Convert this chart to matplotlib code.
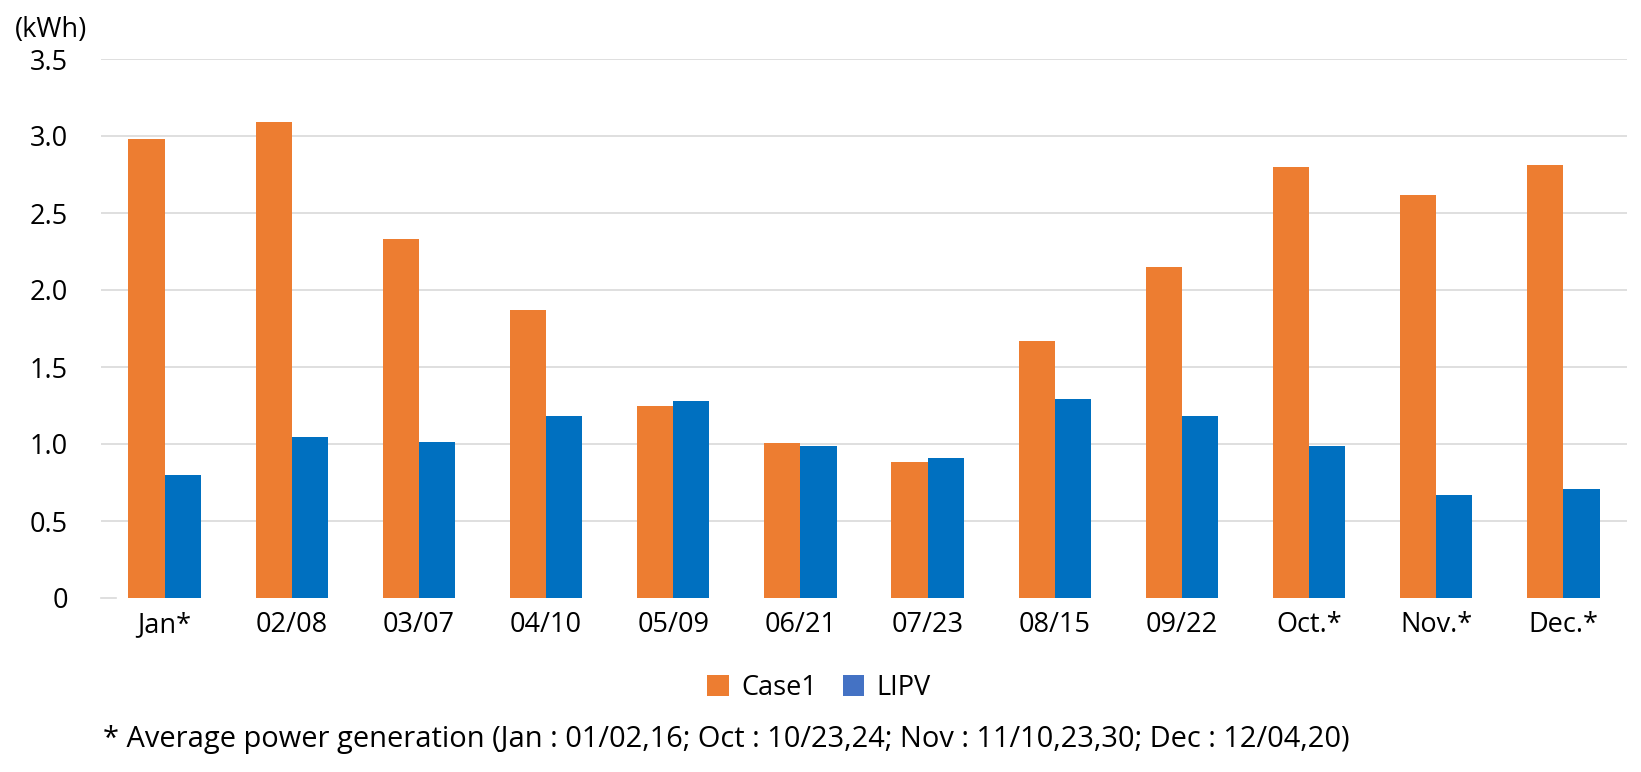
import matplotlib
matplotlib.use("Agg")
import matplotlib.pyplot as plt
from matplotlib.patches import Patch
import numpy as np

categories = ["Jan*", "02/08", "03/07", "04/10", "05/09", "06/21", "07/23",
              "08/15", "09/22", "Oct.*", "Nov.*", "Dec.*"]
case1 = [2.98, 3.09, 2.33, 1.87, 1.25, 1.005, 0.885, 1.67, 2.15, 2.80, 2.615, 2.81]
lipv = [0.80, 1.045, 1.015, 1.185, 1.28, 0.988, 0.908, 1.292, 1.185, 0.985, 0.672, 0.705]
yticks = [0, 0.5, 1.0, 1.5, 2.0, 2.5, 3.0, 3.5]
ytick_labels = ["0", "0.5", "1.0", "1.5", "2.0", "2.5", "3.0", "3.5"]

plt.rcParams['font.family'] = ['Open Sans', 'DejaVu Sans']

W, H = 1641, 772
FS = 19.5
fig = plt.figure(figsize=(W / 100, H / 100), dpi=100)
ax = fig.add_axes([101 / W, 1 - 598 / H, (1627 - 101) / W, (598 - 59) / H])

x = np.arange(len(categories))
bw = 0.285
c_orange = "#ED7D31"
c_blue = "#0070C0"
ax.bar(x - bw / 2, case1, width=bw, color=c_orange, zorder=3)
ax.bar(x + bw / 2, lipv, width=bw, color=c_blue, zorder=3)

ax.set_xlim(-0.5, len(categories) - 0.5)
ax.set_ylim(0, 3.5)
ax.set_yticks(yticks)
ax.set_yticklabels(ytick_labels)
ax.set_xticks(x)
ax.set_xticklabels(categories)
ax.yaxis.grid(True, color="#D9D9D9", linewidth=1.2, zorder=0)
ax.get_ygridlines()[0].set_visible(False)
ax.plot([-0.5, -0.38], [0, 0], color="#D9D9D9", linewidth=1.2, clip_on=False, zorder=1)
for s in ax.spines.values():
    s.set_visible(False)
ax.tick_params(axis="y", length=0, pad=24, labelsize=FS)
ax.tick_params(axis="x", length=0, pad=9.5, labelsize=FS)

fig.text(15 / W, 1 - 30 / H, "(kWh)", fontsize=FS, ha="left", va="center")

handles = [Patch(facecolor=c_orange, label="Case1"), Patch(facecolor="#4472C4", label="LIPV")]
fig.legend(handles=handles, loc="center", bbox_to_anchor=(819 / W, 1 - 688 / H), ncol=2,
           frameon=False, fontsize=FS, handlelength=0.8, handleheight=0.85,
           handletextpad=0.45, columnspacing=0.95)

fig.text(103 / W, 1 - 740 / H,
         "* Average power generation (Jan : 01/02,16; Oct : 10/23,24; Nov : 11/10,23,30; Dec : 12/04,20)",
         fontsize=20.9, ha="left", va="center")

fig.savefig("out.png", dpi=100)
